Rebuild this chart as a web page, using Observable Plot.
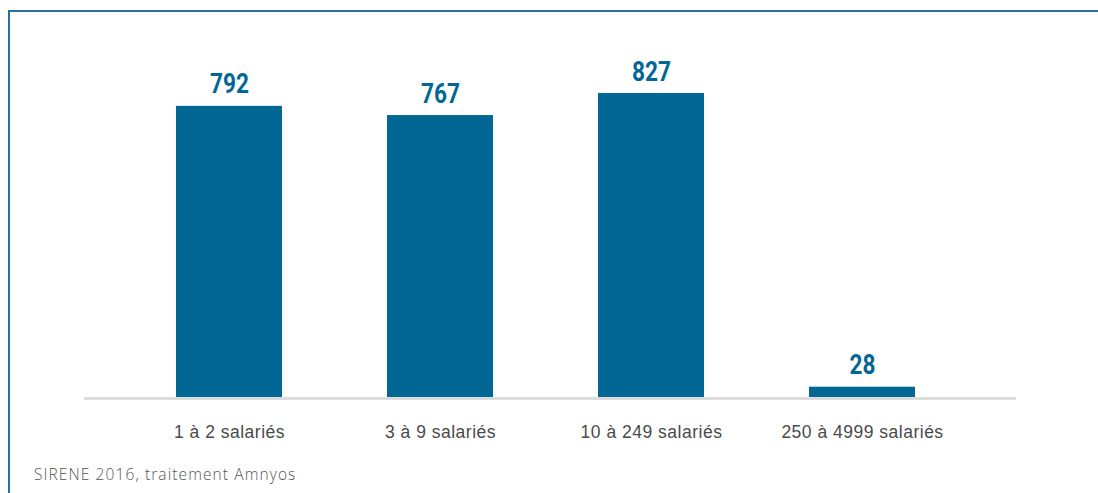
<!DOCTYPE html>
<html>
<head>
<meta charset="utf-8">
<script src="https://cdn.jsdelivr.net/npm/d3@7"></script>
<script src="https://cdn.jsdelivr.net/npm/@observablehq/plot@0.6"></script>
<style>
  html, body { margin: 0; padding: 0; background: #fff; width: 1098px; height: 493px; overflow: hidden; position: relative; }
  #frameTop { position: absolute; left: 8px; top: 10px; width: 1090px; height: 2px; background: #2b6ea0; }
  #frameLeft { position: absolute; left: 8px; top: 10px; width: 2px; height: 483px; background: #2b6ea0; }
  #chart { position: absolute; left: 0; top: 0; }
  #caption { position: absolute; left: 34px; top: 463px; font-family: "Open Sans", "Lato", sans-serif; font-weight: 300; font-size: 15.5px; letter-spacing: 1.1px; color: #555; white-space: nowrap; }
</style>
</head>
<body>
<div id="frameTop"></div>
<div id="frameLeft"></div>
<div id="chart"></div>
<div id="caption">SIRENE 2016, traitement Amnyos</div>
<script>
const categories = ["1 à 2 salariés", "3 à 9 salariés", "10 à 249 salariés", "250 à 4999 salariés"];
const values = [792, 767, 827, 28];

const data = categories.map((c, i) => ({category: c, value: values[i]}));

const chart = Plot.plot({
  width: 1098,
  height: 450,
  marginTop: 0,
  marginBottom: 53,
  marginLeft: 84,
  marginRight: 82,
  style: {background: "transparent", overflow: "visible"},
  x: {domain: categories, paddingInner: 0.5, paddingOuter: 0.45, align: 0.475, label: null},
  y: {domain: [0, 1080], axis: null},
  marks: [
    Plot.barY(data, {x: "category", y: "value", fill: "#036795"}),
    Plot.ruleY([0], {stroke: "#d6d6d6", strokeWidth: 2.5, dy: 1}),
    Plot.text(data, {
      x: "category", y: "value", text: d => String(d.value),
      lineAnchor: "bottom", dy: -13,
      fill: "#036795", fontSize: 28, fontWeight: "bold",
      fontFamily: "Roboto, 'Liberation Sans', sans-serif",
      className: "vlabel"
    }),
    Plot.axisX({
      tickSize: 0, tickPadding: 28, label: null,
      fontSize: 17.5, fill: "#4a4a4a",
      fontFamily: "'Liberation Sans', Arial, sans-serif"
    })
  ]
});
// condense the value labels (narrow display face in the original)
d3.select(chart).selectAll(".vlabel text")
  .attr("textLength", function() { return 13 * this.textContent.length; })
  .attr("lengthAdjust", "spacingAndGlyphs");
d3.select(chart).selectAll("[aria-label='x-axis tick label'] text")
  .style("letter-spacing", "0.5px");
document.getElementById("chart").appendChild(chart);
</script>
</body>
</html>
